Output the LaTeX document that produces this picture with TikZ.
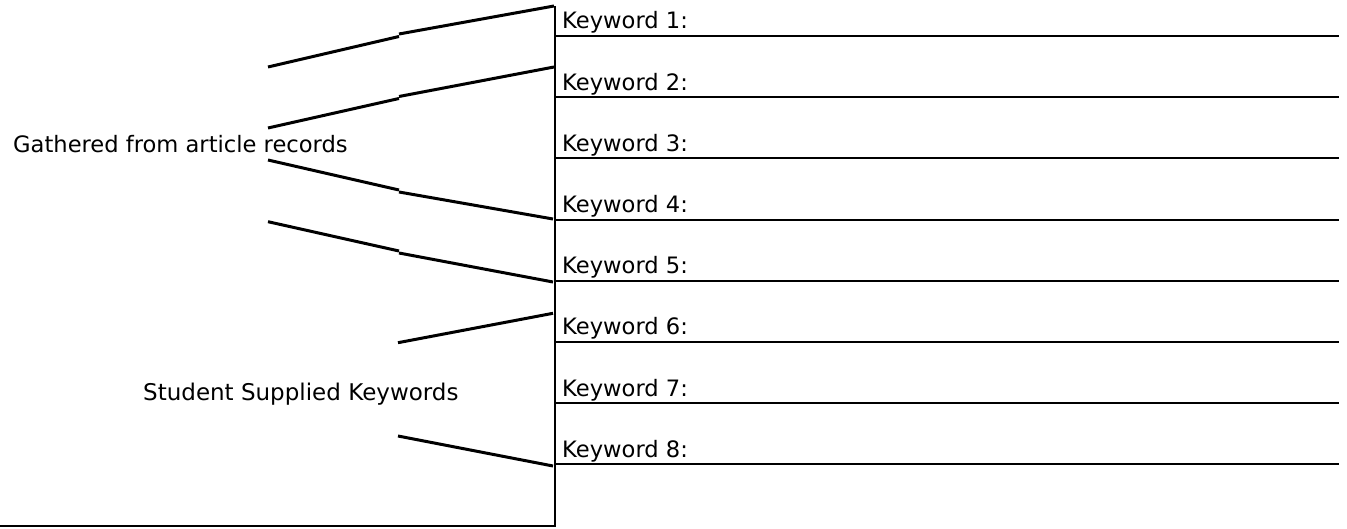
\documentclass[tikz,border=0pt]{standalone}
\usepackage{fontspec}
\setmainfont{DejaVu Sans}
\begin{document}
\begin{tikzpicture}[x=1pt,y=-1pt,
  rule/.style={line width=2pt},
  slant/.style={line width=3pt},
  kw/.style={anchor=base west, inner sep=0pt, font=\fontsize{22.6}{26}\selectfont},
  side/.style={anchor=base west, inner sep=0pt, font=\fontsize{22.6}{26}\selectfont}]
\useasboundingbox (0,0) rectangle (1347,529);
% frame
\coordinate (vt) at (555,6);
\coordinate (vb) at (555,526);
\coordinate (bl) at (0,526);
\draw[rule] (vt) -- (vb) -- (bl);
% keyword rules and labels
\foreach \i in {1,...,8}{
  \pgfmathsetmacro{\yy}{36+61.2*(\i-1)}
  \coordinate (r\i a) at (555,\yy);
  \coordinate (r\i b) at (1339,\yy);
  \draw[rule] (r\i a) -- (r\i b);
  \node[kw] (k\i) at (562,\yy-7) {Keyword \i:};
}
% side labels
\node[side] (gath) at (13,153) {Gathered from article records};
\node[side, font=\fontsize{23}{26}\selectfont] (stud) at (143,400) {Student Supplied Keywords};
% slanted lines
\coordinate (a1) at (268,67);   \coordinate (a1m) at (399,36.5);
\coordinate (a1n) at (399,34);  \coordinate (a1e) at (554,6);
\coordinate (a2) at (268,128);  \coordinate (a2m) at (399,98.5);
\coordinate (a2n) at (399,96.5);\coordinate (a2e) at (554,67);
\coordinate (a3) at (268,160);  \coordinate (a3m) at (399,190);
\coordinate (a3n) at (399,192); \coordinate (a3e) at (553,219);
\coordinate (a4) at (268,221.7);\coordinate (a4m) at (399,251);
\coordinate (a4n) at (399,253); \coordinate (a4e) at (553,282);
\coordinate (a5) at (398,342.7);\coordinate (a5e) at (553,313.3);
\coordinate (a6) at (398,436);  \coordinate (a6e) at (553,466);
\draw[slant] (a1) -- (a1m); \draw[slant] (a1n) -- (a1e);
\draw[slant] (a2) -- (a2m); \draw[slant] (a2n) -- (a2e);
\draw[slant] (a3) -- (a3m); \draw[slant] (a3n) -- (a3e);
\draw[slant] (a4) -- (a4m); \draw[slant] (a4n) -- (a4e);
\draw[slant] (a5) -- (a5e);
\draw[slant] (a6) -- (a6e);
\end{tikzpicture}
\end{document}
